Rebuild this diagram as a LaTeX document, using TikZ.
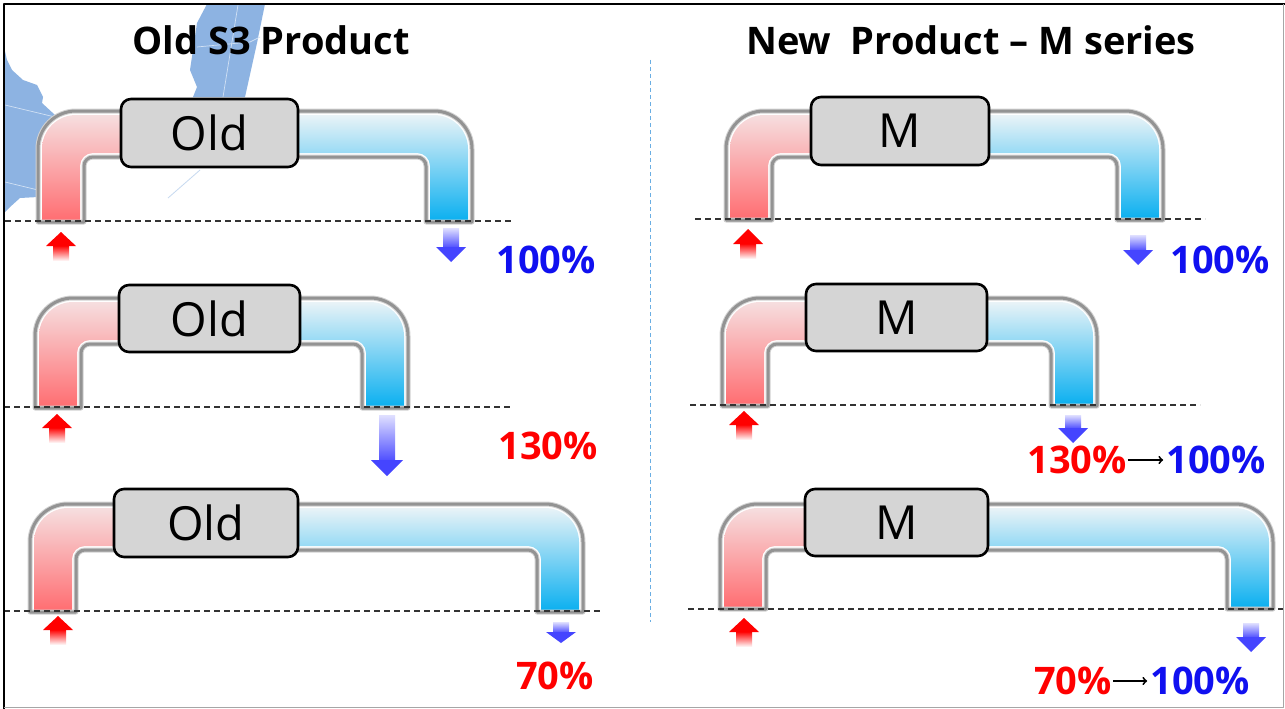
\documentclass[tikz,border=0pt]{standalone}
\usepackage{fontspec}
\setmainfont{Open Sans}
\usepackage{tikz}
\definecolor{mapblue}{HTML}{8DB3E2}
\definecolor{redtop}{HTML}{F6DEDF}
\definecolor{redbot}{HTML}{FF6E72}
\definecolor{bluetop}{HTML}{E9F3F7}
\definecolor{bluebot}{HTML}{0CB0F0}
\definecolor{boxgray}{HTML}{D5D5D5}
\definecolor{pctblue}{HTML}{1010F0}
\definecolor{arrowblue}{HTML}{3030FF}
\newcommand{\pipeshape}[7]{(#1,#4) [rounded corners=#6pt] -- (#1,#3) -- (#2,#3) [sharp corners] -- (#2,#4) -- (#2-#5,#4) [rounded corners=#7pt] -- (#2-#5,#3+#5) -- (#1+#5,#3+#5) [sharp corners] -- (#1+#5,#4) -- cycle}
\begin{document}
\begin{tikzpicture}[x=1pt, y=-1pt, line join=round]
\tikzstyle{boxnode} = [draw=black, line width=2.6pt, fill=boxgray, rounded corners=10pt, inner sep=0pt, font=\fontsize{47}{47}\selectfont]
\tikzstyle{titlenode} = [font=\fontsize{38}{38}\selectfont\bfseries, inner sep=0pt]
\tikzstyle{pctnode} = [font=\fontsize{38}{38}\selectfont\bfseries, inner sep=0pt]
\tikzstyle{levelline} = [dashed, dash pattern=on 6pt off 4pt, line width=1.3pt, black!80]
\useasboundingbox (0,0) rectangle (1285,709);
\fill[white] (0,0) rectangle (1285,709);
% map behind the left column
\fill[mapblue] (4,47) -- (7,60) -- (12,70) -- (23,80) -- (37,85) -- (43,97) -- (42,103) -- (55,115) -- (62,125) -- (45,150) -- (38,197) -- (20,198) -- (10,207) -- (4,213) -- cycle;
\fill[mapblue] (207,4) -- (265,4) -- (257,43) -- (245,97) -- (193,97) -- (197,87) -- (190,70) -- (197,23) -- cycle;
\draw[mapblue!40, line width=.7pt] (238,5) -- (223,97) (197,47) -- (250,42) -- (260,37) (5,105) -- (55,117) (5,182) -- (38,190);
\draw[mapblue!50, line width=.8pt] (200,170) -- (168,198);
% pipes
\foreach \nm/\xl/\xr/\tp/\bs/\bl/\br/\bt/\bb/\lab/\dl/\dr/\dy in {
  oa/38/472/111/222/121/298/99/167/Old/5/513/221,
  ob/35/408/298/408/119/300/285/352/Old/4/511/407,
  oc/30/583/504/612/114/298/489/557/Old/4/600/611,
  ma/726/1163/111/220/811/989/97/165/M/695/1205/219,
  mb/722/1097/298/406/806/987/284/351/M/690/1200/405,
  mc/720/1273/504/609/805/988/489/556/M/688/1285/609} {
  \pgfmathsetmacro{\cx}{(\bl+\br)/2}
  \pgfmathsetmacro{\cy}{(\bt+\bb)/2}
  \pgfmathsetmacro{\bw}{\br-\bl}
  \pgfmathsetmacro{\bh}{\bb-\bt}
  \fill[white] \pipeshape{\xl}{\xr}{\tp}{\bs}{46}{38}{9};
  \begin{scope}
    \clip (\xl-5,\tp-5) rectangle (\cx,\bs+5);
    \shade[top color=redtop, bottom color=redbot] \pipeshape{\xl+4}{\xr-4}{\tp+4}{\bs-2}{38}{34}{13};
  \end{scope}
  \begin{scope}
    \clip (\cx,\tp-5) rectangle (\xr+5,\bs+5);
    \shade[top color=bluetop, bottom color=bluebot] \pipeshape{\xl+4}{\xr-4}{\tp+4}{\bs-2}{38}{34}{13};
  \end{scope}
  \draw[gray!35, line width=5pt] \pipeshape{\xl}{\xr}{\tp}{\bs}{46}{38}{9};
  \draw[gray!85, line width=3pt] \pipeshape{\xl}{\xr}{\tp}{\bs}{46}{38}{9};
  \node[boxnode, minimum width=\bw pt, minimum height=\bh pt] (box\nm) at (\cx,\cy) {\lab};
  \coordinate (la\nm) at (\dl,\dy);
  \coordinate (lb\nm) at (\dr,\dy);
  \draw[levelline] (la\nm) -- (lb\nm);
}
% red arrows going in
\foreach \ax/\far/\hd/\tip in {61/261/246/232, 57/443/428/414, 58/645/630/616, 748/259/244/229, 744/440/425/411, 744/647/632/618} {
  \shade[top color=red, bottom color=white] (\ax-8,\hd-.5) rectangle (\ax+8,\far);
  \fill[red] (\ax-15,\hd) -- (\ax,\tip) -- (\ax+15,\hd) -- cycle;
}
% blue arrows going out
\foreach \ax/\far/\hd/\tip/\hw in {451/228/247/262/15, 387/415/460/476/16, 561/622/632/643/15, 1138/235/250/265/15, 1073/415/428/443/15, 1251/623/637/652/15} {
  \shade[top color=arrowblue!15, bottom color=arrowblue!85] (\ax-8,\far) rectangle (\ax+8,\hd+.5);
  \fill[arrowblue!90] (\ax-\hw,\hd) -- (\ax,\tip) -- (\ax+\hw,\hd) -- cycle;
}
% divider
\coordinate (dtop) at (650,60);
\coordinate (dbot) at (650,622);
\draw[dashed, dash pattern=on 4pt off 3pt, line width=1pt, cyan!70!blue!60] (dtop) -- (dbot);
% texts
\node[titlenode] (told) at (271,40) {Old S3 Product};
\node[titlenode] (tnew) at (971,40) {New\ \ Product -- M series};
\node[pctnode, text=pctblue] (pa) at (546,260) {100\%};
\node[pctnode, text=red] (pb) at (548,446) {130\%};
\node[pctnode, text=red] (pc) at (555,676) {70\%};
\node[pctnode, text=pctblue] (pd) at (1220,260) {100\%};
\node[pctnode, text=red] (pe) at (1077,460) {130\%};
\node[pctnode, text=pctblue] (pf) at (1216,460) {100\%};
\node[pctnode, text=red] (pg) at (1073,681) {70\%};
\node[pctnode, text=pctblue] (ph) at (1200,681) {100\%};
\foreach \from/\to in {pe/pf, pg/ph}
\draw [->, line width=1.9pt, shorten <=1pt, shorten >=3pt] (\from) -- (\to);
% frame
\draw[black, line width=2pt] (1285,4) -- (4,4) -- (4,709);
\draw[gray!70, line width=1pt] (1283.5,4) -- (1283.5,707.5) -- (4,707.5);
\end{tikzpicture}
\end{document}
